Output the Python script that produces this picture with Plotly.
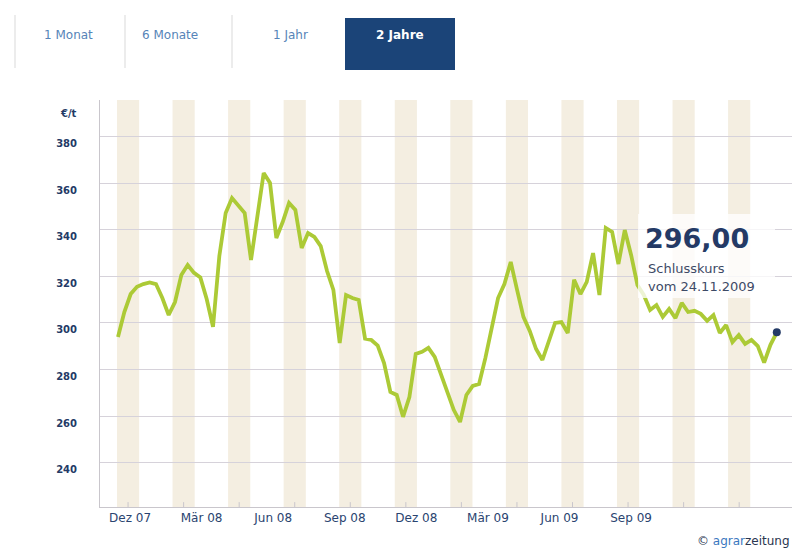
import plotly.graph_objects as go

# Weekly closing prices (EUR/t), two-year view
wochen = list(range(105))
preise = [
    294.0, 304.7, 312.4, 315.5, 316.7, 317.4, 316.7, 310.7, 303.4, 309.0,
    320.6, 324.9, 321.5, 319.5, 310.3, 298.3, 328.8, 347.2, 353.6, 350.6,
    347.2, 327.0, 345.5, 364.4, 360.1, 336.5, 343.3, 351.5, 348.5, 332.2,
    338.6, 336.9, 333.0, 322.3, 314.2, 291.4, 312.0, 310.7, 309.9, 293.3,
    292.7, 290.3, 282.8, 270.4, 269.1, 259.7, 268.2, 286.7, 287.6, 289.3,
    285.4, 278.1, 270.0, 262.7, 257.5, 269.1, 273.0, 273.8, 285.0, 298.7,
    310.7, 316.7, 326.2, 314.2, 302.6, 296.6, 288.8, 284.1, 291.8, 300.0,
    300.4, 295.7, 318.5, 312.4, 317.6, 330.0, 312.0, 340.8, 339.1, 325.3,
    339.9, 329.2, 316.3, 312.0, 305.6, 307.7, 302.6, 306.0, 302.1, 308.6,
    304.7, 305.2, 303.9, 300.9, 303.4, 295.7, 299.1, 291.8, 294.8, 291.0,
    292.7, 290.1, 283.0, 290.6, 296.0,
]
schluss_datum = "24.11.2009"

tick_wochen = [1.9, 13.2, 24.5, 35.8, 47.1, 58.4, 69.7, 81.0]
tick_text = ["Dez 07", "Mär 08", "Jun 08", "Sep 08", "Dez 08", "Mär 09", "Jun 09", "Sep 09"]
y_ticks = [240, 260, 280, 300, 320, 340, 360, 380]
tabs = ["1 Monat", "6 Monate", "1 Jahr", "2 Jahre"]

W, H = 812, 555
L, R, T, B = 100, 20, 100, 48
PW, PH = W - L - R, H - T - B


def px(x):
    return (x - L) / PW


def py(y):
    return (H - B - y) / PH


LINE = "#acca36"
NAVY = "#243a66"
FONT = "DejaVu Sans"

fig = go.Figure()
fig.add_trace(go.Scatter(
    x=wochen, y=preise, mode="lines",
    line=dict(color=LINE, width=3.8), hoverinfo="skip", showlegend=False,
))
fig.add_trace(go.Scatter(
    x=[wochen[-1]], y=[preise[-1]], mode="markers",
    marker=dict(color=NAVY, size=8), hoverinfo="skip", showlegend=False,
))

shapes = []
# alternating beige background bands
band_start, band_period, band_width = -0.16, 8.77, 3.5
for i in range(12):
    x0 = band_start + i * band_period
    shapes.append(dict(type="rect", xref="x", yref="paper", x0=x0, x1=x0 + band_width,
                       y0=0, y1=1, fillcolor="#f4eee1", line_width=0, layer="below"))
    xc = x0 + band_width / 2
    shapes.append(dict(type="line", xref="x", yref="paper", x0=xc, x1=xc, y0=0, y1=0.012,
                       line=dict(color="#c9c6cc", width=1), layer="above"))

# semi-transparent info box for the last close
shapes.append(dict(type="rect", xref="paper", yref="paper",
                   x0=px(638), x1=px(775), y0=py(298), y1=py(214),
                   fillcolor="rgba(255,255,255,0.78)", line_width=0, layer="above"))

# period tabs
shapes.append(dict(type="rect", xref="paper", yref="paper",
                   x0=px(345), x1=px(455), y0=py(70), y1=py(18),
                   fillcolor="#1b4478", line_width=0))
for sx in (15, 125, 232):
    shapes.append(dict(type="line", xref="paper", yref="paper",
                       x0=px(sx), x1=px(sx), y0=py(68), y1=py(15),
                       line=dict(color="#d9d9d9", width=1)))

annotations = []
tab_x = [68, 170, 290, 400]
for i, (t, tx) in enumerate(zip(tabs, tab_x)):
    active = i == len(tabs) - 1
    annotations.append(dict(
        xref="paper", yref="paper", x=px(tx), y=py(35), text=f"<b>{t}</b>" if active else t,
        showarrow=False, xanchor="center", yanchor="middle",
        font=dict(family=FONT, size=12, color="white" if active else "#5684b8"),
    ))

annotations.append(dict(
    xref="paper", yref="paper", x=px(79), y=py(113), text="<b>€/t</b>",
    showarrow=False, xanchor="right", yanchor="middle",
    font=dict(family=FONT, size=10, color=NAVY),
))

wert = f"{preise[-1]:.2f}".replace(".", ",")
annotations += [
    dict(xref="paper", yref="paper", x=px(643), y=py(238), text=f"<b>{wert}</b>",
         showarrow=False, xanchor="left", yanchor="middle",
         font=dict(family=FONT, size=27, color=NAVY)),
    dict(xref="paper", yref="paper", x=px(646), y=py(268), text="Schlusskurs",
         showarrow=False, xanchor="left", yanchor="middle",
         font=dict(family=FONT, size=13, color="#3d4a66")),
    dict(xref="paper", yref="paper", x=px(646), y=py(286), text=f"vom {schluss_datum}",
         showarrow=False, xanchor="left", yanchor="middle",
         font=dict(family=FONT, size=13, color="#3d4a66")),
    dict(xref="paper", yref="paper", x=px(792), y=py(541),
         text="© <span style='color:#3b78c0'>agrar</span>zeitung",
         showarrow=False, xanchor="right", yanchor="middle",
         font=dict(family=FONT, size=12, color="#2a3550")),
]

fig.update_layout(
    width=W, height=H,
    margin=dict(l=L, r=R, t=T, b=B),
    paper_bgcolor="white", plot_bgcolor="white",
    shapes=shapes, annotations=annotations,
    xaxis=dict(
        range=[-2.84, 106.4], showgrid=False, zeroline=False,
        showline=True, linecolor="#c9c6cc", linewidth=1,
        tickvals=tick_wochen, ticktext=tick_text, ticks="",
        tickfont=dict(family=FONT, size=12, color="#2a4470"),
        fixedrange=True,
    ),
    yaxis=dict(
        range=[221.0, 395.7], tickvals=y_ticks, ticktext=[str(v) for v in y_ticks],
        showgrid=True, gridcolor="#d6d2da", gridwidth=1, zeroline=False,
        showline=True, linecolor="#c9c6cc", linewidth=1,
        ticks="", ticklabelposition="outside bottom", ticklabelstandoff=20,
        tickfont=dict(family=FONT, size=10, color=NAVY, weight="bold"),
        fixedrange=True,
    ),
)

fig.write_html("out.html")
